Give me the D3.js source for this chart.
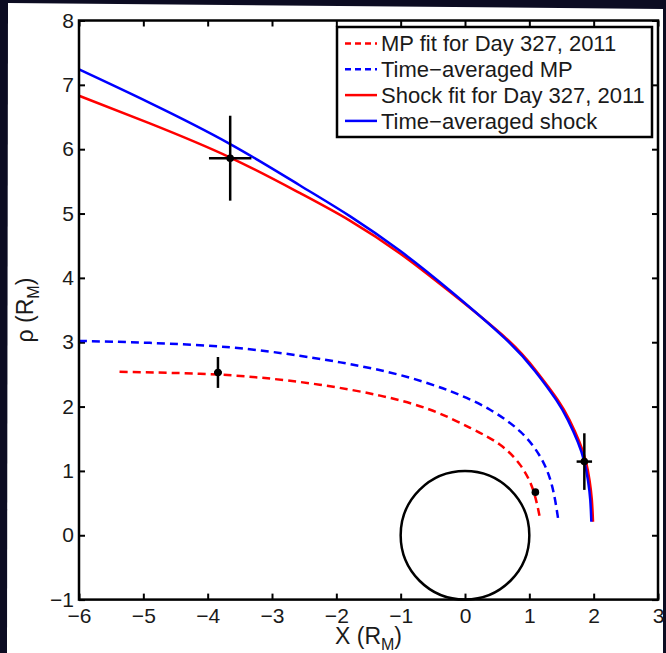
<!DOCTYPE html>
<html>
<head>
<meta charset="utf-8">
<script src="https://cdn.jsdelivr.net/npm/d3@7"></script>
<style>
  body { margin: 0; background: #0c0c22; }
  svg { display: block; }
  text { font-family: "Liberation Sans", Arial, sans-serif; fill: #1a1a1a; }
</style>
</head>
<body>
<script>
// bow shock / magnetopause profiles, X vs rho (R_M)
const shockAvg = [[-6.00, 7.24], [-4.90, 6.72], [-3.65, 6.08], [-2.57, 5.44], [-1.79, 4.96], [-1.01, 4.42],
  [-0.23, 3.80], [0.62, 3.06], [1.09, 2.55], [1.42, 2.10], [1.60, 1.79], [1.754, 1.45], [1.855, 1.145],
  [1.912, 0.85], [1.947, 0.55], [1.964, 0.21]];
const shockFit = [[-6.00, 6.83], [-4.90, 6.40], [-3.65, 5.87], [-2.57, 5.32], [-1.79, 4.89], [-1.01, 4.38],
  [-0.23, 3.78], [0.64, 3.06], [1.11, 2.55], [1.445, 2.10], [1.625, 1.79], [1.779, 1.45], [1.88, 1.145],
  [1.937, 0.85], [1.972, 0.55], [1.99, 0.21]];
const mpAvg = [[-6.00, 3.02], [-4.90, 2.99], [-3.65, 2.92], [-2.57, 2.79], [-1.79, 2.66], [-1.01, 2.49],
  [-0.23, 2.24], [0.39, 1.95], [0.86, 1.61], [1.17, 1.22], [1.35, 0.78], [1.45, 0.24]];
const mpFit = [[-5.37, 2.54], [-4.12, 2.51], [-3.19, 2.45], [-2.26, 2.34], [-1.32, 2.17], [-0.54, 1.95],
  [0.08, 1.67], [0.54, 1.41], [0.86, 1.09], [1.06, 0.70], [1.17, 0.24]];

// crossings: x, rho, x error, rho error
const crossings = [[-3.65, 5.86, 0.33, 0.66], [-3.84, 2.53, 0.06, 0.24], [1.855, 1.145, 0.12, 0.44], [1.094, 0.67, 0, 0]];

const xTicks = [-6, -5, -4, -3, -2, -1, 0, 1, 2, 3];
const yTicks = [-1, 0, 1, 2, 3, 4, 5, 6, 7, 8];

const legendLabels = ["MP fit for Day 327, 2011", "Time\u2212averaged MP", "Shock fit for Day 327, 2011", "Time\u2212averaged shock"];

const W = 666, H = 653;
const mLeft = 79, mRight = 658, mTop = 20.5, mBottom = 599.6;

const svg = d3.select('body').append('svg')
  .attr('width', W)
  .attr('height', H);

// white figure panel on the dark slide
svg.append('path')
  .attr('d', 'M8,3 L663,9 L663,653 L7,653 Z')
  .attr('fill', '#fff');

const x = d3.scaleLinear().domain([-6, 3]).range([mLeft, mRight]);
const y = d3.scaleLinear().domain([-1, 8]).range([mBottom, mTop]);

const line = d3.line()
  .x(d => x(d[0]))
  .y(d => y(d[1]))
  .curve(d3.curveNatural);

// axes, ticks inward
const fmt = d3.format('');
svg.append('g').attr('class', 'axis')
  .attr('transform', `translate(0,${mBottom})`)
  .call(d3.axisBottom(x).tickValues(xTicks).tickFormat(fmt).tickSize(-6).tickPadding(8.5));
svg.append('g').attr('class', 'axis')
  .attr('transform', `translate(0,${mTop})`)
  .call(d3.axisTop(x).tickValues(xTicks).tickFormat('').tickSize(-6));
svg.append('g').attr('class', 'axis')
  .attr('transform', `translate(${mLeft},0)`)
  .call(d3.axisLeft(y).tickValues(yTicks).tickFormat(fmt).tickSize(-6).tickPadding(5));
svg.append('g').attr('class', 'axis')
  .attr('transform', `translate(${mRight},0)`)
  .call(d3.axisRight(y).tickValues(yTicks).tickFormat('').tickSize(-6));

svg.selectAll('.axis .domain').remove();
svg.selectAll('.axis line').attr('stroke', '#000').attr('stroke-width', 2);
svg.selectAll('.axis text').attr('font-size', 21).attr('fill', '#1a1a1a')
  .attr('font-family', '"Liberation Sans", Arial, sans-serif');

// planet
svg.append('circle')
  .attr('cx', x(0))
  .attr('cy', y(0))
  .attr('r', x(1) - x(0))
  .attr('fill', 'none')
  .attr('stroke', '#000')
  .attr('stroke-width', 2.5);

// curves
const curves = [
  {d: mpFit, c: '#ff0000', dash: '8,5'},
  {d: mpAvg, c: '#0000ff', dash: '8,5'},
  {d: shockFit, c: '#ff0000', dash: null},
  {d: shockAvg, c: '#0000ff', dash: null}
];
svg.append('g').selectAll('path')
  .data(curves)
  .enter()
  .append('path')
  .attr('d', d => line(d.d))
  .attr('fill', 'none')
  .attr('stroke', d => d.c)
  .attr('stroke-width', 2.5)
  .attr('stroke-dasharray', d => d.dash);

// crossings with error bars
const cg = svg.append('g').selectAll('g')
  .data(crossings)
  .enter()
  .append('g');
cg.append('line')
  .attr('x1', d => x(d[0] - d[2])).attr('x2', d => x(d[0] + d[2]))
  .attr('y1', d => y(d[1])).attr('y2', d => y(d[1]))
  .attr('stroke', '#000').attr('stroke-width', 2.5);
cg.append('line')
  .attr('x1', d => x(d[0])).attr('x2', d => x(d[0]))
  .attr('y1', d => y(d[1] - d[3])).attr('y2', d => y(d[1] + d[3]))
  .attr('stroke', '#000').attr('stroke-width', 2.5);
cg.append('circle')
  .attr('cx', d => x(d[0])).attr('cy', d => y(d[1]))
  .attr('r', 3.8)
  .attr('fill', '#000');

// box
svg.append('rect')
  .attr('x', mLeft).attr('y', mTop)
  .attr('width', mRight - mLeft).attr('height', mBottom - mTop)
  .attr('fill', 'none')
  .attr('stroke', '#000')
  .attr('stroke-width', 2.5);

// legend
const lg = svg.append('g');
lg.append('rect')
  .attr('x', 337).attr('y', 27)
  .attr('width', 315).attr('height', 110)
  .attr('fill', '#fff')
  .attr('stroke', '#000')
  .attr('stroke-width', 2.5);
const rows = lg.selectAll('g.row')
  .data(curves)
  .enter()
  .append('g')
  .attr('class', 'row')
  .attr('transform', (d, i) => `translate(0,${43.5 + i * 25.8})`);
rows.append('line')
  .attr('x1', 345).attr('x2', 377)
  .attr('stroke', d => d.c)
  .attr('stroke-width', 2.5)
  .attr('stroke-dasharray', d => d.dash ? '6,4' : null);
rows.append('text')
  .attr('x', 381)
  .attr('dy', '0.36em')
  .attr('font-size', 22)
  .text((d, i) => legendLabels[i]);

// axis labels
const xl = svg.append('text')
  .attr('x', (mLeft + mRight) / 2)
  .attr('y', 644)
  .attr('text-anchor', 'middle')
  .attr('font-size', 23);
xl.append('tspan').text('X (R');
xl.append('tspan').attr('font-size', 16).attr('dy', 6).text('M');
xl.append('tspan').attr('dy', -6).text(')');

const yl = svg.append('text')
  .attr('transform', `translate(33,${(mTop + mBottom) / 2}) rotate(-90)`)
  .attr('text-anchor', 'middle')
  .attr('font-size', 23);
yl.append('tspan').text('\u03c1 (R');
yl.append('tspan').attr('font-size', 16).attr('dy', 6).text('M');
yl.append('tspan').attr('dy', -6).text(')');
</script>
</body>
</html>
